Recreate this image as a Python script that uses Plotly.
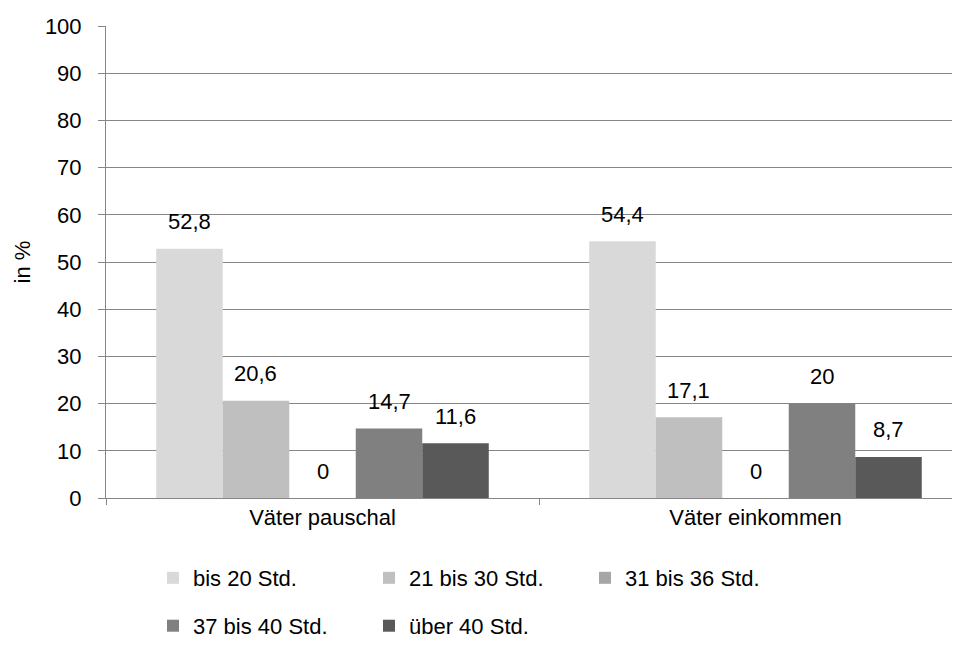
import plotly.graph_objects as go

# Kategorien und Werte (in %)
kategorien = ["Väter pauschal", "Väter einkommen"]
serien = ["bis 20 Std.", "21 bis 30 Std.", "31 bis 36 Std.", "37 bis 40 Std.", "über 40 Std."]
werte = [
    [52.8, 54.4],
    [20.6, 17.1],
    [0, 0],
    [14.7, 20.0],
    [11.6, 8.7],
]
farben = ["#d9d9d9", "#bfbfbf", "#a6a6a6", "#808080", "#595959"]
y_ticks = list(range(0, 101, 10))

schrift = dict(family="Liberation Sans, Arial, sans-serif", size=22, color="#000000")

bargap = 0.232
bar_w = (1 - bargap) / len(serien)
x_pos = list(range(len(kategorien)))

fig = go.Figure()
for i, (name, vals, farbe) in enumerate(zip(serien, werte, farben)):
    fig.add_trace(go.Bar(
        x=x_pos, y=vals, name=name,
        marker=dict(color=farbe, line=dict(width=0)),
        legend="legend" if i < 3 else "legend2",
    ))
    # Datenbeschriftungen über den Balken
    off = -(1 - bargap) / 2 + bar_w * (i + 0.5)
    for xi, v in zip(x_pos, vals):
        fig.add_annotation(
            x=xi + off, y=v, text=f"{v:g}".replace(".", ","),
            showarrow=False, yanchor="middle", yshift=27,
            font=schrift,
        )

plot_w = 960 - 98
fig.update_layout(
    width=960, height=655,
    barmode="group", bargap=bargap,
    plot_bgcolor="white", paper_bgcolor="white",
    margin=dict(l=98, r=0, t=18, b=165),
    font=schrift,
    showlegend=True,
    legend=dict(orientation="h", x=0.0545, xanchor="left", y=-0.1695, yanchor="middle",
                entrywidth=171, entrywidthmode="pixels", font=schrift,
                bgcolor="rgba(0,0,0,0)"),
    legend2=dict(orientation="h", x=0.0545, xanchor="left", y=-0.271, yanchor="middle",
                 entrywidth=171, entrywidthmode="pixels", font=schrift,
                 bgcolor="rgba(0,0,0,0)"),
)
fig.update_xaxes(
    range=[-0.5, -0.5 + plot_w / 433],
    tickvals=x_pos, ticktext=kategorien, ticks="",
    showline=True, linecolor="#868686", linewidth=1,
    showgrid=False, zeroline=False,
    tickfont=schrift,
    minor=dict(tickvals=[-0.5, 0.5], ticks="outside", ticklen=6, tickcolor="#868686", showgrid=False),
)
fig.update_yaxes(
    range=[0, 100], tickvals=y_ticks,
    showline=True, linecolor="#868686", linewidth=1,
    ticks="outside", ticklen=7, tickcolor="#868686",
    ticklabelstandoff=12,
    showgrid=True, gridcolor="#868686", gridwidth=1,
    zeroline=False, tickfont=schrift,
    title=dict(text="in %", font=schrift, standoff=8),
)

fig.write_html("out.html")
